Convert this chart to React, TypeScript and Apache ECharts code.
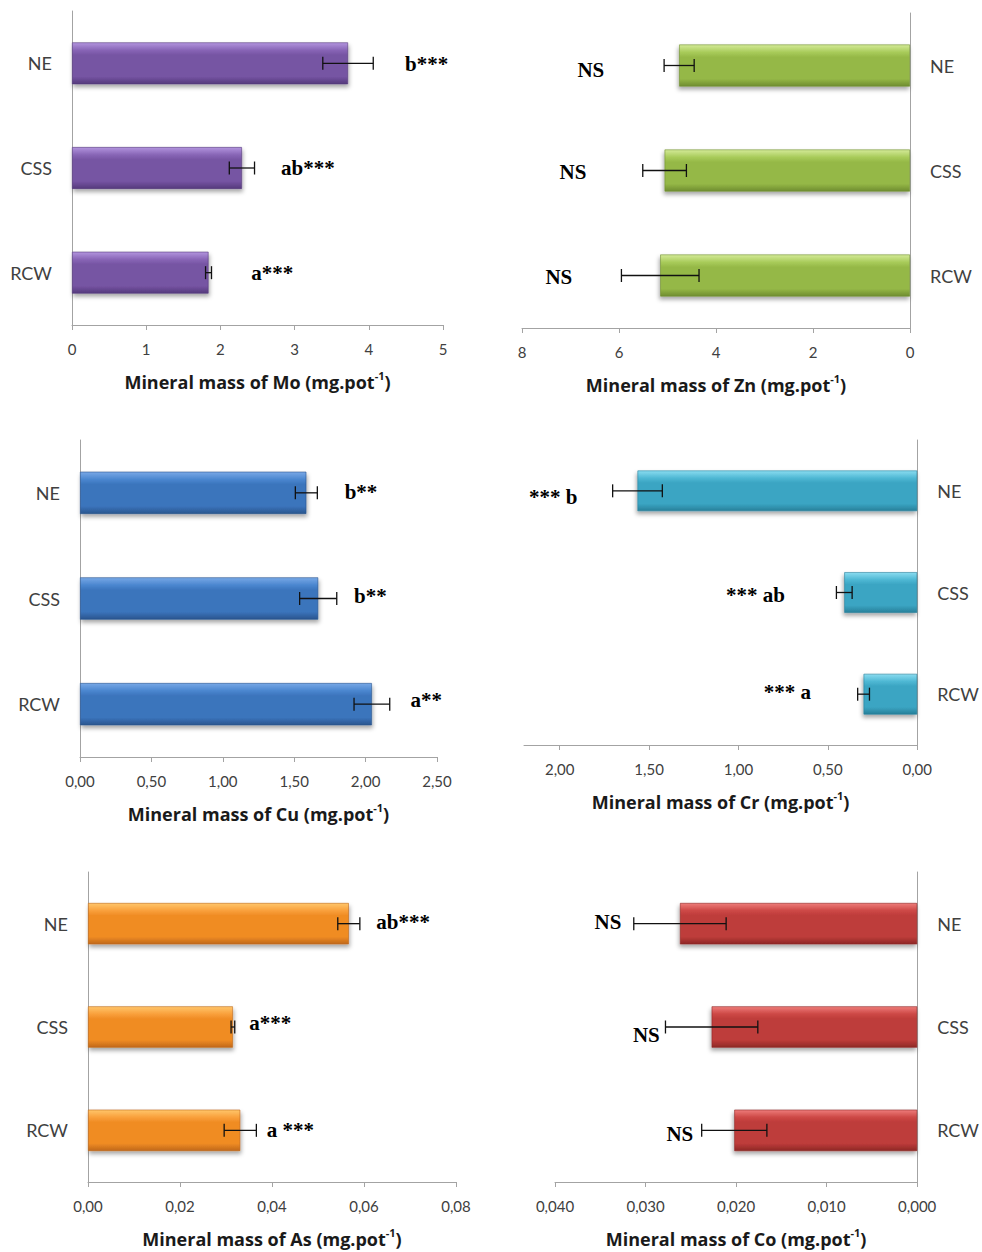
import React, { useEffect, useRef } from 'react';
import * as echarts from 'echarts';

// ---------- DATA ----------
const categories = ['NE', 'CSS', 'RCW'];

const moMeans = [3.72, 2.29, 1.84];
const moErrors = [0.34, 0.17, 0.04];
const moSignif = ['b***', 'ab***', 'a***'];
const moLabelAt = [4.78, 3.18, 2.7];
const moTicks = [0, 1, 2, 3, 4, 5];

const znMeans = [4.76, 5.06, 5.15];
const znErrors = [0.31, 0.45, 0.8];
const znSignif = ['NS', 'NS', 'NS'];
const znLabelAt = [6.58, 6.95, 7.24];
const znTicks = [0, 2, 4, 6, 8];

const cuMeans = [1.585, 1.668, 2.044];
const cuErrors = [0.077, 0.13, 0.125];
const cuSignif = ['b**', 'b**', 'a**'];
const cuLabelAt = [1.968, 2.033, 2.424];
const cuTicks = [0, 0.5, 1, 1.5, 2, 2.5];

const crMeans = [1.565, 0.408, 0.3];
const crErrors = [0.139, 0.044, 0.033];
const crSignif = ['*** b', '*** ab', '*** a'];
const crLabelAt = [2.037, 0.905, 0.727];
const crTicks = [0, 0.5, 1, 1.5, 2];

const asMeans = [0.0567, 0.0315, 0.0331];
const asErrors = [0.0024, 0.0004, 0.0035];
const asSignif = ['ab***', 'a***', 'a ***'];
const asLabelAt = [0.0685, 0.0396, 0.044];
const asTicks = [0, 0.02, 0.04, 0.06, 0.08];

const coMeans = [0.0262, 0.0227, 0.0202];
const coErrors = [0.0051, 0.0051, 0.0036];
const coSignif = ['NS', 'NS', 'NS'];
const coLabelAt = [0.03415, 0.02991, 0.02621];
const coTicks = [0, 0.01, 0.02, 0.03, 0.04];

// ---------- LAYOUT / STYLE ----------
type Panel = {
  element: string;
  means: number[];
  errors: number[];
  signif: string[];
  labelAt: number[];
  ticks: number[];
  max: number;
  decimals: number;
  side: 'left' | 'right';
  grid: { left: number; top: number; width: number; height: number };
  colors: [string, string, string, string];
  labelDy: number[];
};

const panels: Panel[] = [
  {
    element: 'Mo', means: moMeans, errors: moErrors, signif: moSignif, labelAt: moLabelAt,
    ticks: moTicks, max: 5, decimals: 0, side: 'left',
    grid: { left: 72, top: 11, width: 371, height: 314 },
    colors: ['#B294DE', '#8865B6', '#7654A3', '#553a7c'],
    labelDy: [1, 0, 0],
  },
  {
    element: 'Zn', means: znMeans, errors: znErrors, signif: znSignif, labelAt: znLabelAt,
    ticks: znTicks, max: 8, decimals: 0, side: 'right',
    grid: { left: 522, top: 13, width: 388, height: 315 },
    colors: ['#D4EA98', '#A8CB5A', '#95B847', '#6f8d2f'],
    labelDy: [4, 1, 1],
  },
  {
    element: 'Cu', means: cuMeans, errors: cuErrors, signif: cuSignif, labelAt: cuLabelAt,
    ticks: cuTicks, max: 2.5, decimals: 2, side: 'left',
    grid: { left: 80, top: 440, width: 357, height: 317 },
    colors: ['#78A8E6', '#4A86CF', '#3B74BC', '#2a558e'],
    labelDy: [-1, -3, -4],
  },
  {
    element: 'Cr', means: crMeans, errors: crErrors, signif: crSignif, labelAt: crLabelAt,
    ticks: crTicks, max: 2.2, decimals: 2, side: 'right',
    grid: { left: 524, top: 440, width: 396, height: 305 },
    colors: ['#8ADCF0', '#4FB8D4', '#3BA5C3', '#27809a'],
    labelDy: [6, 2, -2],
  },
  {
    element: 'As', means: asMeans, errors: asErrors, signif: asSignif, labelAt: asLabelAt,
    ticks: asTicks, max: 0.08, decimals: 2, side: 'left',
    grid: { left: 88, top: 872, width: 368, height: 311 },
    colors: ['#FFC66A', '#F9A03C', '#F08C24', '#c0681a'],
    labelDy: [-2, -4, 0],
  },
  {
    element: 'Co', means: coMeans, errors: coErrors, signif: coSignif, labelAt: coLabelAt,
    ticks: coTicks, max: 0.04, decimals: 3, side: 'right',
    grid: { left: 555, top: 872, width: 365, height: 311 },
    colors: ['#EE7C7A', '#CD4846', '#BE3C3A', '#8e2826'],
    labelDy: [-2, 8, 4],
  },
];

const AXIS_GREY = '#A3A3A3';
const TEXT_GREY = '#404040';
const TITLE_FONT = 'Open Sans';

function buildOption() {
  const grid: any[] = [];
  const xAxis: any[] = [];
  const yAxis: any[] = [];
  const series: any[] = [];

  panels.forEach((p, i) => {
    grid.push({ ...p.grid, containLabel: false });
    const right = p.side === 'right';
    xAxis.push({
      type: 'value',
      gridIndex: i,
      min: 0,
      max: p.max,
      inverse: right,
      splitLine: { show: false },
      axisLine: { show: true, onZero: false, lineStyle: { color: AXIS_GREY, width: 1 } },
      axisTick: { show: true, length: 5, customValues: p.ticks, lineStyle: { color: AXIS_GREY } },
      axisLabel: {
        customValues: p.ticks,
        margin: 16,
        fontFamily: 'Lato',
        fontSize: 15,
        color: TEXT_GREY,
        formatter: (v: number) => v.toFixed(p.decimals).replace('.', ','),
      },
      name: `Mineral mass of ${p.element} (mg.pot{sup|-1})`,
      nameLocation: 'middle',
      nameGap: 45,
      nameTextStyle: {
        fontFamily: TITLE_FONT,
        fontWeight: 'bold',
        fontSize: 18,
        color: '#1a1a1a',
        lineHeight: 24,
        rich: {
          sup: {
            fontFamily: TITLE_FONT,
            fontWeight: 'bold',
            fontSize: 11,
            color: '#1a1a1a',
            verticalAlign: 'top',
            lineHeight: 12,
          },
        },
      },
    });
    yAxis.push({
      type: 'category',
      gridIndex: i,
      data: categories,
      inverse: true,
      position: p.side,
      axisLine: { show: true, lineStyle: { color: AXIS_GREY, width: 1 } },
      axisTick: { show: false },
      splitLine: { show: false },
      axisLabel: { fontFamily: 'Lato', fontSize: 18, color: TEXT_GREY, margin: 20 },
    });

    const [light, mid, main, dark] = p.colors;
    series.push({
      type: 'bar',
      xAxisIndex: i,
      yAxisIndex: i,
      data: p.means,
      barWidth: '40%',
      itemStyle: {
        color: new echarts.graphic.LinearGradient(0, 0, 0, 1, [
          { offset: 0, color: light },
          { offset: 0.18, color: mid },
          { offset: 0.3, color: main },
          { offset: 0.82, color: main },
          { offset: 1, color: dark },
        ]),
        borderColor: dark,
        borderWidth: 0.6,
        shadowColor: 'rgba(0,0,0,0.35)',
        shadowBlur: 4,
        shadowOffsetX: right ? -1 : 1,
        shadowOffsetY: 3,
      },
      z: 2,
    });

    series.push({
      type: 'custom',
      xAxisIndex: i,
      yAxisIndex: i,
      z: 5,
      clip: false,
      encode: { x: 0, y: 1 },
      data: p.means.map((m, k) => [m, k, p.errors[k], p.labelAt[k]]),
      renderItem: (params: any, api: any) => {
        const m = api.value(0);
        const cat = api.value(1);
        const e = api.value(2);
        const la = api.value(3);
        const k = params.dataIndex;
        const a = api.coord([m - e, cat]);
        const b = api.coord([m + e, cat]);
        const t = api.coord([la, cat]);
        const cap = 6.5;
        const ls = { stroke: '#111', lineWidth: 1.3 };
        return {
          type: 'group',
          children: [
            { type: 'line', shape: { x1: a[0], y1: a[1], x2: b[0], y2: b[1] }, style: ls },
            { type: 'line', shape: { x1: a[0], y1: a[1] - cap, x2: a[0], y2: a[1] + cap }, style: ls },
            { type: 'line', shape: { x1: b[0], y1: b[1] - cap, x2: b[0], y2: b[1] + cap }, style: ls },
            {
              type: 'text',
              x: t[0],
              y: t[1] + p.labelDy[k],
              style: {
                text: p.signif[k],
                fill: '#000',
                fontFamily: 'Liberation Serif',
                fontWeight: 'bold',
                fontSize: 21,
                align: 'center',
                verticalAlign: 'middle',
              },
            },
          ],
        };
      },
    });
  });

  return {
    animation: false,
    backgroundColor: '#ffffff',
    grid,
    xAxis,
    yAxis,
    series,
  };
}

export default function App() {
  const ref = useRef<HTMLDivElement>(null);
  useEffect(() => {
    document.body.style.margin = '0';
    if (!ref.current) return;
    const chart = echarts.init(ref.current, undefined, { renderer: 'svg' });
    chart.setOption(buildOption() as any);
    return () => chart.dispose();
  }, []);
  return <div ref={ref} style={{ width: 982, height: 1252 }} />;
}
